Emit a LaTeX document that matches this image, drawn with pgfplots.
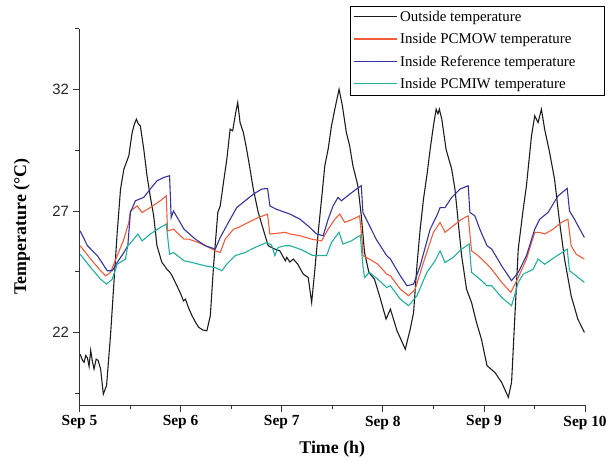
\documentclass[border=0pt]{standalone}
\usepackage{fontspec}
\setmainfont{Liberation Serif}
\setsansfont{Liberation Sans}
\usepackage{pgfplots}
\pgfplotsset{compat=1.18}

\definecolor{outC}{HTML}{1C1C1C}
\definecolor{owC}{HTML}{F25C3A}
\definecolor{refC}{HTML}{3333A3}
\definecolor{iwC}{HTML}{1FAF9F}

\begin{document}
\begin{tikzpicture}
\begin{axis}[
    scale only axis,
    width=509pt, height=379pt,
    xmin=0, xmax=5, ymin=19, ymax=34.5,
    axis x line*=bottom, axis y line*=left,
    axis line style={line width=0.8pt, black!80},
    tick align=outside,
    major tick length=7pt, minor tick length=4pt,
    tick style={line width=0.8pt, black!80},
    xtick={0,1,2,3,4,5},
    xticklabels={Sep 5,Sep 6,Sep 7,Sep 8,Sep 9,Sep 10},
    minor xtick={0.5,1.5,2.5,3.5,4.5},
    ytick={22,27,32},
    minor ytick={19.5,24.5,29.5,34.5},
    /pgf/number format/assume math mode=true,
    xticklabel style={font=\fontsize{15.5}{18}\selectfont\bfseries},
    yticklabel style={font=\sffamily\fontsize{15}{18}\selectfont, black!85},
    xlabel={Time (h)},
    ylabel={Temperature (°C)},
    label style={font=\fontsize{18}{21}\selectfont\bfseries},
    xlabel style={at={(axis description cs:0.5,-0.116)}, anchor=center},
    ylabel style={at={(axis description cs:-0.114,0.475)}, anchor=center},
    legend style={at={(1.039,1.061)}, anchor=north east, draw=black, line width=0.8pt,
        font=\fontsize{15}{17}\selectfont, row sep=6.5pt, inner xsep=3pt, inner ysep=3pt},
    legend cell align=left,
    legend image code/.code={\draw[#1, line width=1.4pt] (0pt,0.5pt) -- (44pt,0.5pt);},
    every axis plot/.append style={line width=1.1pt},
]
% outside
\addplot[outC] coordinates {
(0.007,21.1) (0.030,20.85) (0.046,20.77) (0.062,21.05) (0.079,20.95) (0.095,20.6) (0.111,21.26) (0.128,20.8) (0.144,20.49)
(0.165,20.9) (0.184,20.85) (0.209,20.5) (0.236,19.46) (0.268,19.82) (0.307,21.88)
(0.341,24.06) (0.373,26.1) (0.406,27.9) (0.439,28.72) (0.488,29.27) (0.521,30.23)
(0.545,30.6) (0.563,30.78) (0.580,30.6) (0.602,30.5) (0.636,29.54) (0.668,28.45)
(0.700,27.6) (0.734,26.8) (0.766,25.58) (0.815,24.88) (0.840,24.75) (0.864,24.6) (0.890,24.5) (0.914,24.35)
(0.963,23.93) (1.000,23.6) (1.028,23.3) (1.048,23.37) (1.080,23.0) (1.113,22.69) (1.150,22.4) (1.179,22.21) (1.220,22.1) (1.260,22.07)
(1.294,22.69) (1.326,24.74) (1.368,26.94) (1.392,27.21) (1.424,28.17) (1.457,29.13)
(1.490,30.37) (1.515,30.3) (1.545,31.05) (1.565,31.47) (1.588,30.64) (1.621,30.23)
(1.653,29.54) (1.687,28.72) (1.719,27.9) (1.768,26.94) (1.817,26.25) (1.866,25.57)
(1.932,25.43) (1.981,25.36) (2.036,24.95) (2.050,25.09) (2.080,24.9) (2.115,25.02) (2.160,24.8)
(2.213,24.4) (2.262,24.26) (2.296,23.23) (2.328,24.6) (2.361,26.12) (2.394,27.49)
(2.426,28.86) (2.459,29.54) (2.492,30.5) (2.525,31.19) (2.567,32.01) (2.600,31.33)
(2.639,30.23) (2.672,29.68) (2.704,28.86) (2.753,28.04) (2.787,26.8) (2.819,25.29)
(2.862,24.47) (2.917,24.19) (2.967,23.51) (3.032,22.55) (3.075,22.96) (3.140,22.07)
(3.222,21.31) (3.271,22.14) (3.304,22.82) (3.337,24.74) (3.369,26.25) (3.402,27.49)
(3.435,28.45) (3.468,29.54) (3.500,30.5) (3.527,31.19) (3.545,31.0) (3.559,31.19)
(3.583,30.78) (3.625,29.54) (3.681,28.72) (3.713,27.9) (3.746,26.53) (3.779,25.16)
(3.828,23.78) (3.877,23.23) (3.926,22.41) (3.975,21.72) (4.030,20.63) (4.109,20.35)
(4.175,19.94) (4.241,19.33) (4.273,19.94) (4.306,22.69) (4.339,25.43) (4.388,27.07)
(4.420,28.04) (4.470,30.09) (4.502,30.92) (4.535,30.64) (4.568,31.19) (4.600,30.37)
(4.649,29.41) (4.698,28.31) (4.748,26.53) (4.797,25.02) (4.862,23.51) (4.928,22.55)
(4.993,22.0)
};
\addlegendentry{Outside temperature}
% PCMOW
\addplot[owC] coordinates {
(0.007,25.57) (0.111,25.02) (0.209,24.54) (0.258,24.33) (0.307,24.47) (0.373,25.16)
(0.439,25.84) (0.488,26.53) (0.504,27.0) (0.570,27.21) (0.619,26.94) (0.700,27.14)
(0.799,27.42) (0.858,27.62) (0.871,26.18) (0.930,26.25) (1.034,25.84) (1.081,25.84)
(1.179,25.7) (1.277,25.5) (1.343,25.36) (1.392,25.29) (1.441,25.84) (1.523,26.25)
(1.572,26.32) (1.670,26.53) (1.768,26.73) (1.860,26.87) (1.883,26.05) (2.036,26.12)
(2.083,26.05) (2.181,25.98) (2.296,25.84) (2.394,25.77) (2.459,26.25) (2.525,26.66)
(2.574,26.87) (2.623,26.53) (2.704,26.66) (2.770,26.8) (2.797,25.7) (2.803,25.16)
(2.868,25.02) (2.950,24.81) (3.038,24.4) (3.075,24.33) (3.173,23.78) (3.254,23.51)
(3.320,23.78) (3.402,24.88) (3.500,26.12) (3.566,26.53) (3.615,26.12) (3.697,26.39)
(3.779,26.66) (3.844,26.8) (3.877,25.36) (3.942,25.16) (4.030,24.81) (4.077,24.6)
(4.175,24.06) (4.266,23.65) (4.339,24.26) (4.420,25.02) (4.502,26.12) (4.551,26.12)
(4.600,26.05) (4.683,26.25) (4.764,26.53) (4.830,26.66) (4.862,25.57) (4.912,25.22)
(4.993,25.02)
};
\addlegendentry{Inside PCMOW temperature}
% Reference
\addplot[refC] coordinates {
(0.007,26.18) (0.079,25.57) (0.177,25.16) (0.275,24.54) (0.324,24.54) (0.373,24.88)
(0.439,25.29) (0.478,25.57) (0.504,26.94) (0.553,27.42) (0.636,27.56) (0.700,27.9)
(0.766,28.24) (0.832,28.38) (0.891,28.45) (0.907,26.73) (0.930,27.0) (0.995,26.53)
(1.034,26.25) (1.146,25.84) (1.245,25.57) (1.343,25.43) (1.392,25.91) (1.473,26.53)
(1.555,27.14) (1.638,27.42) (1.719,27.69) (1.801,27.9) (1.860,27.93) (1.883,27.21)
(1.948,27.07) (2.083,26.87) (2.181,26.66) (2.279,26.32) (2.345,26.05) (2.410,25.98)
(2.459,26.66) (2.508,27.21) (2.557,27.56) (2.590,27.42) (2.672,27.69) (2.738,27.9)
(2.787,28.04) (2.803,26.94) (2.852,26.53) (2.934,25.84) (3.038,25.16) (3.075,25.02)
(3.173,24.33) (3.239,23.92) (3.304,23.99) (3.369,24.74) (3.468,26.25) (3.533,26.8)
(3.566,27.14) (3.615,27.14) (3.681,27.56) (3.762,27.9) (3.844,28.04) (3.861,26.94)
(3.910,26.8) (3.959,26.25) (4.030,25.57) (4.077,25.43) (4.175,24.74) (4.273,24.13)
(4.339,24.47) (4.420,25.16) (4.502,26.25) (4.551,26.66) (4.634,26.94) (4.732,27.62)
(4.823,27.93) (4.846,27.0) (4.895,26.66) (4.993,25.91)
};
\addlegendentry{Inside Reference temperature}
% PCMIW
\addplot[iwC] coordinates {
(0.007,25.22) (0.111,24.67) (0.209,24.19) (0.268,23.99) (0.324,24.19) (0.373,24.81)
(0.455,25.02) (0.478,25.57) (0.537,25.84) (0.577,26.05) (0.619,25.77) (0.700,26.05)
(0.799,26.32) (0.858,26.46) (0.891,25.22) (0.930,25.29) (1.034,24.95) (1.113,24.88)
(1.245,24.74) (1.343,24.67) (1.408,24.54) (1.457,24.81) (1.539,25.16) (1.638,25.29)
(1.736,25.5) (1.850,25.7) (1.900,25.6) (1.932,25.16) (1.965,25.5) (2.036,25.57)
(2.083,25.57) (2.181,25.43) (2.311,25.16) (2.443,25.16) (2.492,25.7) (2.541,25.98)
(2.567,26.12) (2.606,25.64) (2.689,25.77) (2.777,26.0) (2.803,24.74) (2.819,24.26)
(2.868,24.47) (2.950,24.19) (3.038,23.85) (3.075,23.92) (3.173,23.37) (3.254,23.1)
(3.337,23.51) (3.435,24.47) (3.517,24.95) (3.566,25.36) (3.615,24.88) (3.697,25.09)
(3.779,25.43) (3.854,25.64) (3.877,24.47) (3.942,24.26) (4.030,23.92) (4.077,23.92)
(4.175,23.44) (4.273,23.1) (4.339,24.06) (4.388,24.4) (4.486,24.6) (4.535,25.02)
(4.600,24.81) (4.698,25.09) (4.823,25.43) (4.846,24.54) (4.912,24.33) (4.993,24.06)
};
\addlegendentry{Inside PCMIW temperature\hspace*{34pt}}
\end{axis}
\path (current axis.south west) ++(-80pt,-55pt) rectangle ++(610pt,463pt);
\end{tikzpicture}
\end{document}
